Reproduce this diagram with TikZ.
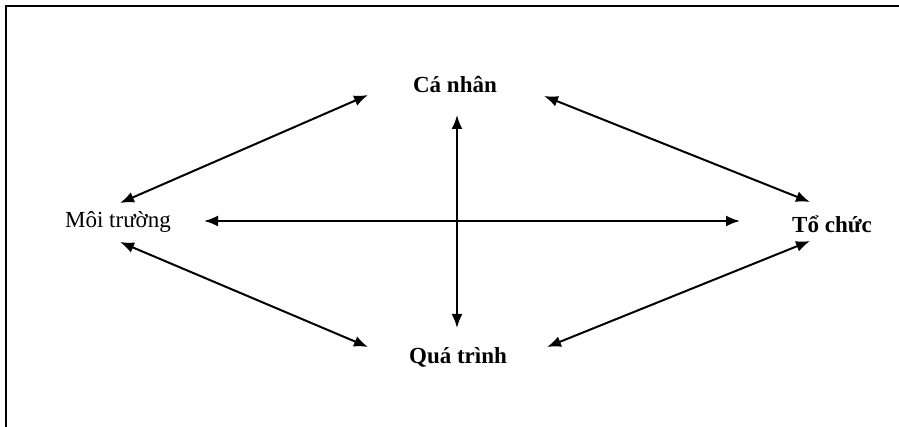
\documentclass[tikz,border=0pt]{standalone}
\usepackage{fontspec}
\setmainfont{Liberation Serif}
\usetikzlibrary{arrows.meta}
\begin{document}
\begin{tikzpicture}[x=1pt,y=-1pt,
  lbl/.style={inner sep=0pt,anchor=base,font=\fontsize{23}{27}\selectfont},
  blbl/.style={lbl,font=\fontsize{23}{27}\selectfont\bfseries},
  link/.style={line width=2pt,{Latex[length=14pt,width=11pt]}-{Latex[length=14pt,width=11pt]}}]
\useasboundingbox (0,0) rectangle (899,427);
\draw[line width=2pt] (6,427) -- (6,6) -- (899,6);
\node[blbl] (ca) at (455,93) {Cá nhân};
\node[lbl] (moi) at (118,228) {Môi trường};
\node[blbl] (to) at (832,233) {Tổ chức};
\node[blbl] (qua) at (458,363) {Quá trình};
\coordinate (caL) at (368,95);
\coordinate (caR) at (544,96);
\coordinate (caB) at (457,115);
\coordinate (moiT) at (120,203);
\coordinate (moiR) at (204,221);
\coordinate (moiB) at (120,242);
\coordinate (toT) at (810,202);
\coordinate (toL) at (740,221);
\coordinate (toB) at (810,241);
\coordinate (quaL) at (368,347);
\coordinate (quaR) at (547,347);
\coordinate (quaT) at (457,328);
\draw[link] (moiT) -- (caL);
\draw[link] (caR) -- (toT);
\draw[link] (moiR) -- (toL);
\draw[link] (caB) -- (quaT);
\draw[link] (moiB) -- (quaL);
\draw[link] (quaR) -- (toB);
\end{tikzpicture}
\end{document}
